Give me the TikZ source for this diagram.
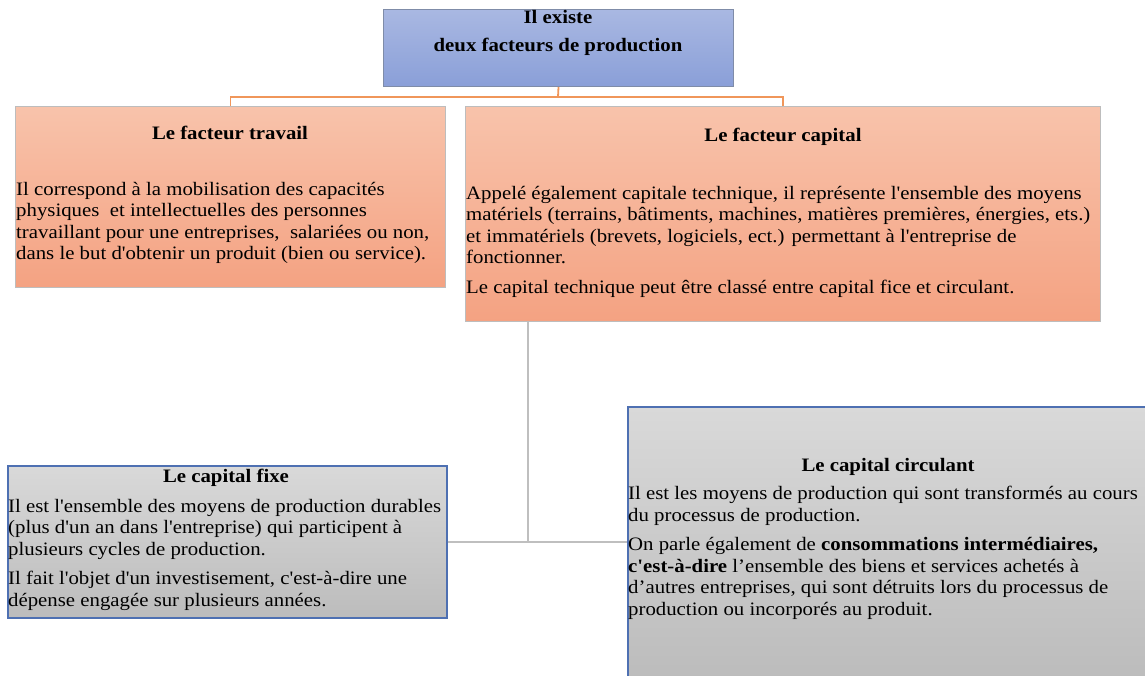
\documentclass[tikz,border=0pt]{standalone}
\usepackage{fontspec}
\setmainfont[FakeStretch=1.095,Ligatures=TeXOff]{Liberation Serif}
\begin{document}
\begin{tikzpicture}[x=1pt,y=-1pt,
  box/.style={draw, line width=1pt, inner sep=0pt, anchor=north west},
  bluebox/.style={box, draw=bluebord, top color=blueTop, bottom color=blueBot},
  orbox/.style={box, draw=orbord, top color=orTop, bottom color=orBot},
  grbox/.style={box, draw=grbord, line width=1.6pt, top color=grTop, bottom color=grBot},
  ttl/.style={font=\fontsize{19}{22}\selectfont\bfseries, inner sep=0pt, align=center},
  body/.style={font=\fontsize{19}{21.5}\selectfont, inner sep=0pt, anchor=north west, align=left},
  orline/.style={draw=orline, line width=1.8pt},
  grline/.style={draw=grline, line width=1.8pt}]
\definecolor{blueTop}{HTML}{A9B8E2}
\definecolor{blueBot}{HTML}{8A9FD8}
\definecolor{bluebord}{HTML}{7F8CA8}
\definecolor{orTop}{HTML}{F8C3AB}
\definecolor{orBot}{HTML}{F4A282}
\definecolor{orbord}{HTML}{BDBDBD}
\definecolor{grTop}{HTML}{D9D9D9}
\definecolor{grBot}{HTML}{BCBCBC}
\definecolor{grbord}{HTML}{4E70B2}
\definecolor{orline}{HTML}{F0965A}
\definecolor{grline}{HTML}{BFBFBF}
\useasboundingbox (0,0) rectangle (1145,675);
% boxes
\node[bluebox, minimum width=350pt, minimum height=77pt] (top) at (383,9) {};
\node[orbox, minimum width=430pt, minimum height=181pt] (trav) at (15,106) {};
\node[orbox, minimum width=635pt, minimum height=215pt] (cap) at (465,106) {};
\node[grbox, minimum width=439pt, minimum height=152pt] (fixe) at (7,465) {};
\node[grbox, minimum width=520pt, minimum height=272pt] (circ) at (627,406) {};
% connectors
\coordinate (jt) at (558,97);
\coordinate (jc) at (528,541);
\draw[orline] (top.south) -- (jt);
\draw[orline] (trav.north) |- (jt) -| (cap.north);
\draw[grline] (jc |- cap.south) -- (jc);
\draw[grline] (fixe.east) -- (circ.west |- fixe.east);
% texts
\node[ttl] (t1) at (558,17) {Il existe};
\node[ttl] (t2) at (558,47) {deux facteurs de production};
\node[ttl] (tt) at (230,133) {Le facteur travail};
\node[body] (tb) at (16,182) {Il correspond à la mobilisation des capacités\\
physiques\ \ et intellectuelles des personnes\\
travaillant pour une entreprises,\ \ salariées ou non,\\
dans le but d'obtenir un produit (bien ou service).};
\node[ttl] (ct) at (783,137) {Le facteur capital};
\node[body] (cb) at (466,186) {Appelé également capitale technique,\ il représente l'ensemble des moyens\\
matériels (terrains, bâtiments, machines, matières premières, énergies, ets.)\\
et immatériels (brevets, logiciels, ect.) permettant à l'entreprise de\\
fonctionner.\\[8pt]
Le capital technique peut être classé entre capital\ fice et circulant.};
\node[ttl] (ft) at (226,478) {Le capital fixe};
\node[body] (fb) at (8,499) {Il est l'ensemble des moyens\ de production durables\\
(plus d'un an dans l'entreprise) qui participent à\\
plusieurs cycles\ de production.\\[8pt]
Il fait l'objet d'un investisement,\ c'est-à-dire une\\
dépense\ engagée\ sur plusieurs années.};
\node[ttl] (rt) at (888,467) {Le capital circulant};
\node[body] (rb) at (628,486) {Il est les moyens de production qui sont transformés au cours\\
du processus de production.\\[8pt]
On parle également de \textbf{consommations intermédiaires,}\\
\textbf{c'est-à-dire} l’ensemble des biens et services achetés à\\
d’autres entreprises,\ qui sont détruits lors du processus de\\
production ou incorporés au produit.};
\end{tikzpicture}
\end{document}
